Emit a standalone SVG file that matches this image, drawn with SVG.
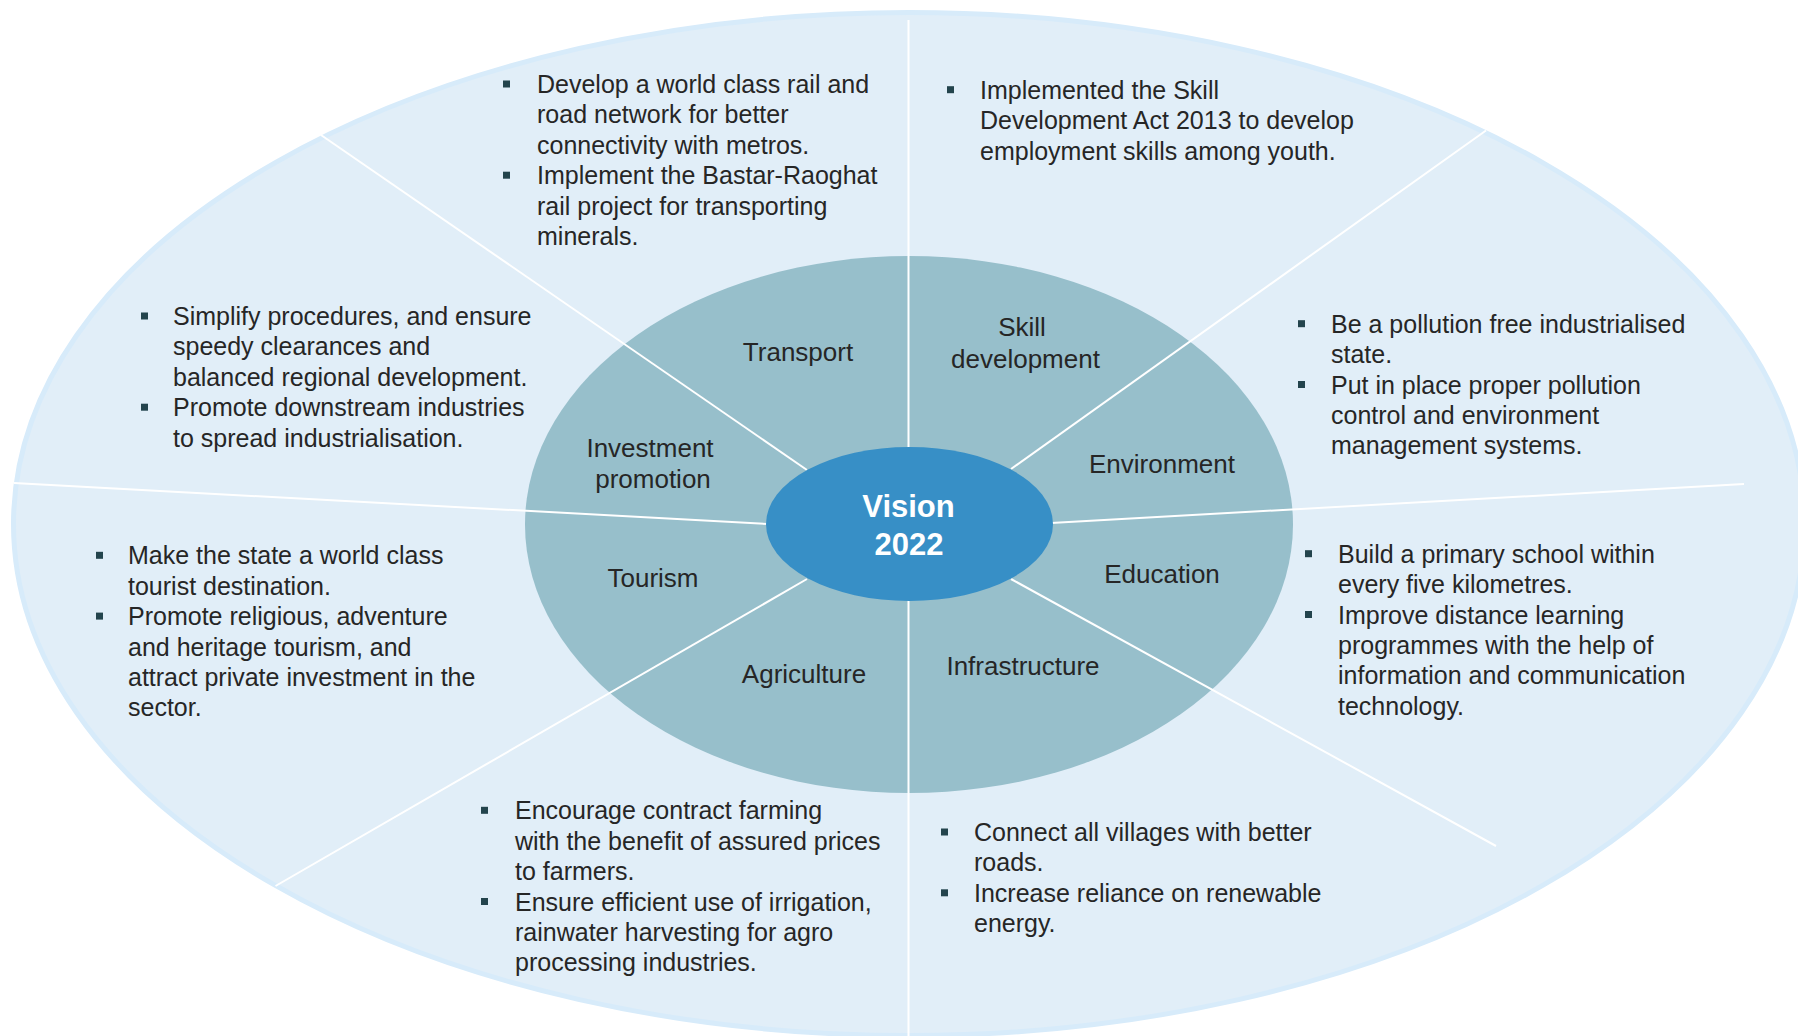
<svg xmlns="http://www.w3.org/2000/svg" width="1798" height="1036" viewBox="0 0 1798 1036">
  <style>
    .ring-outer { fill: #E1EEF8; stroke: #D7EBFA; stroke-width: 5; }
    .ring-mid { fill: #97BFCB; }
    .hub { fill: #378FC6; }
    .divider { stroke: #FFFFFF; stroke-width: 2; fill: none; }
    .label { font-family: "Liberation Sans", Arial, sans-serif; font-size: 26px; fill: #262626; text-anchor: middle; }
    .hub-text { font-family: "Liberation Sans", Arial, sans-serif; font-size: 31px; font-weight: bold; fill: #FFFFFF; text-anchor: middle; }
    .body { font-family: "Liberation Sans", Arial, sans-serif; font-size: 25px; fill: #262626; }
    .dot { fill: #23444D; }
  </style>
  <defs>
    <rect id="sq" width="7" height="7"/>
  </defs>

  <rect width="1798" height="1036" fill="#FFFFFF"/>

  <!-- rings -->
  <g id="outer-ring">
    <ellipse class="ring-outer" cx="909" cy="524" rx="895.5" ry="511.5"/>
  </g>
  <g id="sector-ring">
    <ellipse class="ring-mid" cx="909" cy="524.5" rx="384" ry="268.5"/>
  </g>

  <!-- radial dividers -->
  <g id="connectors">
    <line class="divider" x1="908.5" y1="20" x2="908.5" y2="450"/>
    <line class="divider" x1="908.5" y1="598" x2="908.5" y2="1036"/>
    <line class="divider" x1="321" y1="135" x2="807" y2="470"/>
    <line class="divider" x1="14" y1="483" x2="768" y2="524"/>
    <line class="divider" x1="275.5" y1="886" x2="807" y2="579"/>
    <line class="divider" x1="1011" y1="579" x2="1496" y2="846"/>
    <line class="divider" x1="1051" y1="523" x2="1744" y2="484"/>
    <line class="divider" x1="1486" y1="130.5" x2="1011" y2="469"/>
  </g>

  <!-- centre -->
  <g id="vision">
    <ellipse class="hub" cx="909.5" cy="524" rx="143.5" ry="77"/>
    <text class="hub-text" x="908.5" y="516.5">Vision</text>
    <text class="hub-text" x="909" y="555">2022</text>
  </g>

  <!-- Transport -->
  <g id="transport">
    <text class="label" x="798" y="361">Transport</text>
    <use href="#sq" class="dot" x="503" y="80.5"/>
    <use href="#sq" class="dot" x="503" y="171.7"/>
    <text class="body" y="93">
      <tspan x="537">Develop a world class rail and</tspan>
      <tspan x="537" dy="30.4">road network for better</tspan>
      <tspan x="537" dy="30.4">connectivity with metros.</tspan>
      <tspan x="537" dy="30.4">Implement the Bastar-Raoghat</tspan>
      <tspan x="537" dy="30.4">rail project for transporting</tspan>
      <tspan x="537" dy="30.4">minerals.</tspan>
    </text>
  </g>

  <!-- Skill development -->
  <g id="skill-development">
    <text class="label" x="1022" y="336">Skill</text>
    <text class="label" x="1025.5" y="367.7">development</text>
    <use href="#sq" class="dot" x="947" y="86.2"/>
    <text class="body" y="98.7">
      <tspan x="980">Implemented the Skill</tspan>
      <tspan x="980" dy="30.4">Development Act 2013 to develop</tspan>
      <tspan x="980" dy="30.4">employment skills among youth.</tspan>
    </text>
  </g>

  <!-- Environment -->
  <g id="environment">
    <text class="label" x="1162" y="472.7">Environment</text>
    <use href="#sq" class="dot" x="1298" y="320.2"/>
    <use href="#sq" class="dot" x="1298" y="381"/>
    <text class="body" y="332.7">
      <tspan x="1331">Be a pollution free industrialised</tspan>
      <tspan x="1331" dy="30.4">state.</tspan>
      <tspan x="1331" dy="30.4">Put in place proper pollution</tspan>
      <tspan x="1331" dy="30.4">control and environment</tspan>
      <tspan x="1331" dy="30.4">management systems.</tspan>
    </text>
  </g>

  <!-- Education -->
  <g id="education">
    <text class="label" x="1162" y="582.7">Education</text>
    <use href="#sq" class="dot" x="1305" y="550.2"/>
    <use href="#sq" class="dot" x="1305" y="611"/>
    <text class="body" y="562.7">
      <tspan x="1338">Build a primary school within</tspan>
      <tspan x="1338" dy="30.4">every five kilometres.</tspan>
      <tspan x="1338" dy="30.4">Improve distance learning</tspan>
      <tspan x="1338" dy="30.4">programmes with the help of</tspan>
      <tspan x="1338" dy="30.4">information and communication</tspan>
      <tspan x="1338" dy="30.4">technology.</tspan>
    </text>
  </g>

  <!-- Infrastructure -->
  <g id="infrastructure">
    <text class="label" x="1023" y="675">Infrastructure</text>
    <use href="#sq" class="dot" x="941" y="828.5"/>
    <use href="#sq" class="dot" x="941" y="889.3"/>
    <text class="body" y="841">
      <tspan x="974">Connect all villages with better</tspan>
      <tspan x="974" dy="30.4">roads.</tspan>
      <tspan x="974" dy="30.4">Increase reliance on renewable</tspan>
      <tspan x="974" dy="30.4">energy.</tspan>
    </text>
  </g>

  <!-- Agriculture -->
  <g id="agriculture">
    <text class="label" x="804" y="682.7">Agriculture</text>
    <use href="#sq" class="dot" x="481" y="806.8"/>
    <use href="#sq" class="dot" x="481" y="898"/>
    <text class="body" y="819.3">
      <tspan x="515">Encourage contract farming</tspan>
      <tspan x="515" dy="30.4">with the benefit of assured prices</tspan>
      <tspan x="515" dy="30.4">to farmers.</tspan>
      <tspan x="515" dy="30.4">Ensure efficient use of irrigation,</tspan>
      <tspan x="515" dy="30.4">rainwater harvesting for agro</tspan>
      <tspan x="515" dy="30.4">processing industries.</tspan>
    </text>
  </g>

  <!-- Tourism -->
  <g id="tourism">
    <text class="label" x="653" y="586.7">Tourism</text>
    <use href="#sq" class="dot" x="96" y="551.8"/>
    <use href="#sq" class="dot" x="96" y="612.6"/>
    <text class="body" y="564.3">
      <tspan x="128">Make the state a world class</tspan>
      <tspan x="128" dy="30.4">tourist destination.</tspan>
      <tspan x="128" dy="30.4">Promote religious, adventure</tspan>
      <tspan x="128" dy="30.4">and heritage tourism, and</tspan>
      <tspan x="128" dy="30.4">attract private investment in the</tspan>
      <tspan x="128" dy="30.4">sector.</tspan>
    </text>
  </g>

  <!-- Investment promotion -->
  <g id="investment-promotion">
    <text class="label" x="650" y="456.7">Investment</text>
    <text class="label" x="653" y="488.3">promotion</text>
    <use href="#sq" class="dot" x="141" y="312.5"/>
    <use href="#sq" class="dot" x="141" y="403.7"/>
    <text class="body" y="325">
      <tspan x="173">Simplify procedures, and ensure</tspan>
      <tspan x="173" dy="30.4">speedy clearances and</tspan>
      <tspan x="173" dy="30.4">balanced regional development.</tspan>
      <tspan x="173" dy="30.4">Promote downstream industries</tspan>
      <tspan x="173" dy="30.4">to spread industrialisation.</tspan>
    </text>
  </g>
</svg>
